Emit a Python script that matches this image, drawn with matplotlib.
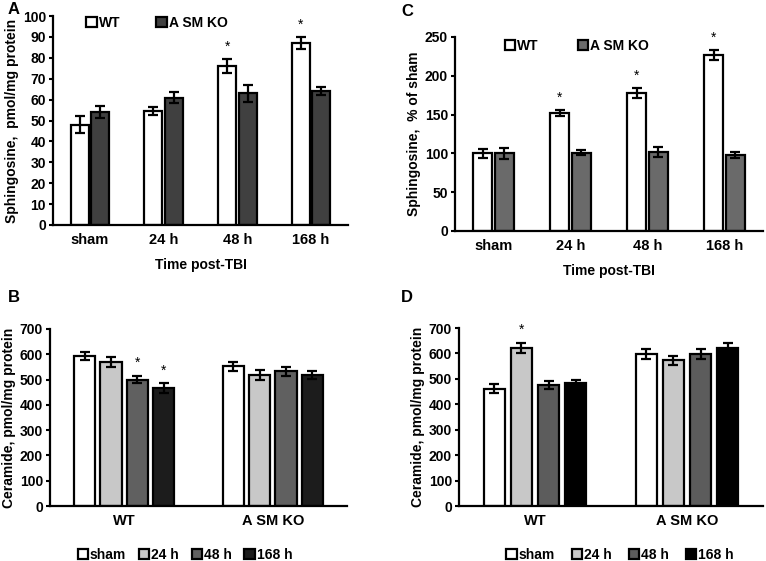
import matplotlib
matplotlib.use('Agg')
import matplotlib.pyplot as plt
import numpy as np

plt.rcParams['font.family'] = ['Liberation Sans', 'DejaVu Sans']
plt.rcParams['font.weight'] = 'bold'

# Panel A / C: sphingosine over time
times = ['sham', '24 h', '48 h', '168 h']
sph_wt = [48, 54.5, 76, 87]
sph_wt_err = [4, 2, 3.5, 3]
sph_ko = [54, 61, 63, 64]
sph_ko_err = [3, 2.5, 4, 2]
sph_wt_star = [False, False, True, True]

pct_wt = [100, 152, 178, 227]
pct_wt_err = [6, 4, 6, 6]
pct_ko = [100, 101, 102, 98]
pct_ko_err = [7, 3, 6, 4]
pct_wt_star = [False, True, True, True]

# Panel B / D: ceramide by genotype
genotypes = ['WT', 'A SM KO']
timepoints = ['sham', '24 h', '48 h', '168 h']
cerB = [[593, 552], [570, 518], [500, 533], [467, 518]]
cerB_err = [[15, 18], [20, 20], [15, 18], [20, 15]]
cerB_star = [[False, False], [False, False], [True, False], [True, False]]
cerD = [[462, 598], [622, 573], [477, 598], [482, 622]]
cerD_err = [[18, 20], [20, 18], [15, 20], [15, 18]]
cerD_star = [[False, False], [True, False], [False, False], [False, False]]

W, H = 766, 561
fig = plt.figure(figsize=(W / 100, H / 100), dpi=100)


def ax_at(l, t, r, b):
    return fig.add_axes([l / W, 1 - b / H, (r - l) / W, (b - t) / H])


def style(ax, ymax, step, ylabel):
    ax.set_ylim(0, ymax)
    ax.set_yticks(np.arange(0, ymax + 1, step))
    for s in ['top', 'right']:
        ax.spines[s].set_visible(False)
    for s in ['left', 'bottom']:
        ax.spines[s].set_linewidth(1.6)
    ax.tick_params(axis='y', length=3, width=1.5, labelsize=10, pad=2)
    ax.tick_params(axis='x', length=0, labelsize=10.5, pad=6)
    ax.set_ylabel(ylabel, fontsize=10, fontweight='bold', labelpad=3)


def star(ax, x, top):
    ax.annotate('*', xy=(x, top), xytext=(0, 9), textcoords='offset points',
                ha='center', va='center', fontsize=10, fontweight='normal')


ekw = dict(ecolor='black', elinewidth=1.6, capsize=3.5, capthick=1.6)


def time_panel(ax, wt, wt_err, ko, ko_err, stars, ko_color, ymax, step, ylabel):
    x = np.arange(len(times))
    w = 0.245
    b1 = ax.bar(x - 0.14, wt, w, yerr=wt_err, color='white', edgecolor='black',
                linewidth=1.6, error_kw=ekw, label='WT')
    b2 = ax.bar(x + 0.14, ko, w, yerr=ko_err, color=ko_color, edgecolor='black',
                linewidth=1.6, error_kw=ekw, label='A SM KO')
    for i, s in enumerate(stars):
        if s:
            star(ax, x[i] - 0.14, wt[i] + wt_err[i])
    ax.set_xlim(-0.5, len(times) - 0.5)
    ax.set_xticks(x)
    ax.set_xticklabels(times, fontweight='bold')
    style(ax, ymax, step, ylabel)
    ax.set_xlabel('Time post-TBI', fontsize=10, fontweight='bold', labelpad=8)
    return b1, b2


def geno_panel(ax, vals, errs, stars, colors):
    x = np.arange(len(genotypes))
    w = 0.142
    pitch = 0.178
    for j, tp in enumerate(timepoints):
        off = (j - 1.5) * pitch
        ax.bar(x + off, vals[j], w, yerr=errs[j], color=colors[j],
               edgecolor='black', linewidth=1.6, error_kw=ekw, label=tp)
        for i in range(len(genotypes)):
            if stars[j][i]:
                star(ax, x[i] + off, vals[j][i] + errs[j][i])
    ax.set_xlim(-0.5, len(genotypes) - 0.5)
    ax.set_xticks(x)
    ax.set_xticklabels(genotypes, fontweight='bold')
    style(ax, 700, 100, 'Ceramide, pmol/mg protein')


leg_kw = dict(frameon=False, handlelength=0.75, handleheight=0.75,
              handletextpad=0.15, borderpad=0, prop={'weight': 'bold', 'size': 10},
              bbox_transform=fig.transFigure, loc='center')

# A
axA = ax_at(53, 16, 348, 225)
time_panel(axA, sph_wt, sph_wt_err, sph_ko, sph_ko_err, sph_wt_star, '#404040',
           100, 10, 'Sphingosine,  pmol/mg protein')
axA.legend(ncol=2, columnspacing=2.6, bbox_to_anchor=(157 / W, 1 - 23 / H), **leg_kw)

# C
axC = ax_at(455, 37, 763, 231)
time_panel(axC, pct_wt, pct_wt_err, pct_ko, pct_ko_err, pct_wt_star, '#6a6a6a',
           250, 50, 'Sphingosine,  % of sham')
axC.legend(ncol=2, columnspacing=2.8, bbox_to_anchor=(577 / W, 1 - 46 / H), **leg_kw)

# B
axB = ax_at(50, 329, 347, 506)
geno_panel(axB, cerB, cerB_err, cerB_star, ['white', '#c8c8c8', '#606060', '#1c1c1c'])
axB.legend(ncol=4, columnspacing=0.9, bbox_to_anchor=(185 / W, 1 - 555 / H), **leg_kw)

# D
axD = ax_at(459, 328, 763, 506)
geno_panel(axD, cerD, cerD_err, cerD_star, ['white', '#c8c8c8', '#5c5c5c', '#000000'])
axD.legend(ncol=4, columnspacing=1.2, bbox_to_anchor=(620 / W, 1 - 555 / H), **leg_kw)

for lab, px, py in [('A', 8, 10), ('C', 401, 12), ('B', 8, 298), ('D', 401, 298)]:
    fig.text(px / W, 1 - py / H, lab, fontsize=12, fontweight='bold', ha='left', va='center')

fig.savefig('out.png', dpi=100)
